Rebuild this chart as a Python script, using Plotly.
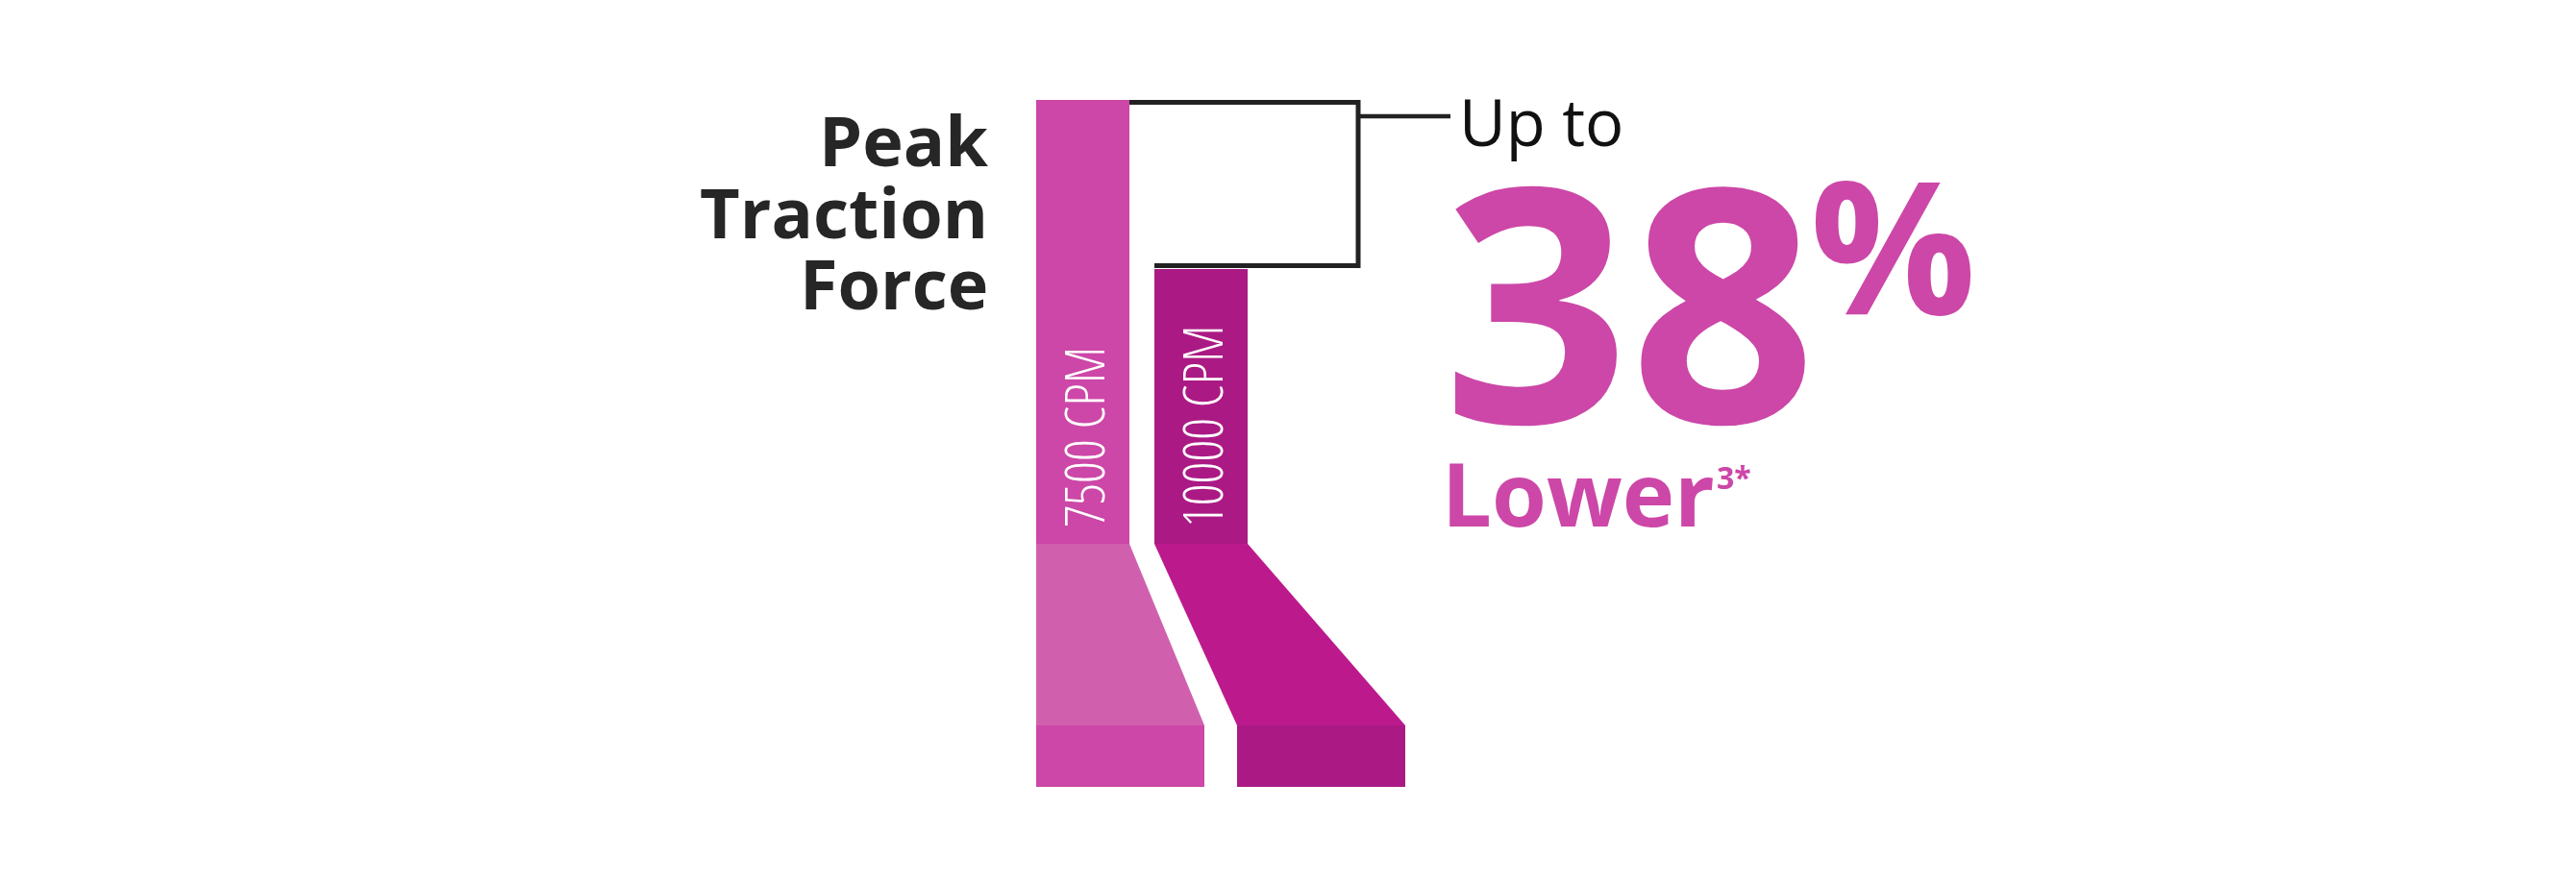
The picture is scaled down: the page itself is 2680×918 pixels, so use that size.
import plotly.graph_objects as go

# ---------------- data ----------------
categories = ["7500 CPM", "10000 CPM"]
peak_force = [100, 62]                      # relative peak traction force
title_lines = ["Peak", "Traction", "Force"]
lead_text = "Up to"
tail_text = "Lower"
footnote = "3*"
reduction = round(100 * (1 - peak_force[1] / peak_force[0]))   # 38

# ---------------- styling / layout constants ----------------
bar_colors = ["#CC47A7", "#AB1A84"]
foot_colors = ["#D060AD", "#BC1A8C"]
block_colors = ["#CC47A7", "#AB1A84"]
accent = "#CC47A7"
dark = "#262626"

W, H = 2680, 918                   # page size
OFF = 8                            # default body margin of the page
FW, FH = W - 2 * OFF, H - 2 * OFF  # figure size
CX0, CPITCH = 1126.5, 123.0        # page pixel centre of first bar, pitch between bars
Y0, PXV = 566.0, 4.62              # page pixel of value 0, pixels per value unit
BAR_W = 97.0 / CPITCH


def px2x(px):
    return (px - CX0) / CPITCH


def py2y(py):
    return (Y0 - py) / PXV


def pxx(px):
    return (px - OFF) / FW


def pyy(py):
    return 1 - (py - OFF) / FH


FONT = "Open Sans"
ASC = 1.069   # Open Sans ascent (em)

fig = go.Figure()
fig.add_trace(go.Bar(
    x=list(range(len(categories))), y=peak_force, width=BAR_W,
    marker=dict(color=bar_colors, line=dict(width=0)),
    hoverinfo="skip", showlegend=False,
))

shapes = []
# 3D "feet" under the bars
foot_bottom = py2y(755)
block_bottom = py2y(819)
feet = [
    (-BAR_W / 2, BAR_W / 2, px2x(1253), -BAR_W / 2),
    (1 - BAR_W / 2, 1 + BAR_W / 2, px2x(1462), px2x(1287)),
]
for i, (tl, tr, br, bl) in enumerate(feet):
    shapes.append(dict(
        type="path", xref="x", yref="y",
        path=f"M{tl},0 L{tr},0 L{br},{foot_bottom} L{bl},{foot_bottom} Z",
        fillcolor=foot_colors[i], line=dict(width=0), layer="below"))
    shapes.append(dict(
        type="rect", xref="x", yref="y",
        x0=bl, x1=br, y0=block_bottom, y1=foot_bottom,
        fillcolor=block_colors[i], line=dict(width=0), layer="below"))

# bracket between bar tops
bx = px2x(1413)
y_top = peak_force[0] - 2.5 / PXV
y_bot = peak_force[1] + 3.0 / PXV
shapes.append(dict(
    type="path", xref="x", yref="y",
    path=f"M{BAR_W / 2},{y_top} L{bx},{y_top} L{bx},{y_bot} L{1 - BAR_W / 2},{y_bot}",
    line=dict(color="#222222", width=5)))
shapes.append(dict(
    type="line", xref="x", yref="y",
    x0=bx, x1=px2x(1509), y0=py2y(121), y1=py2y(121),
    line=dict(color="#222222", width=4.5)))

annotations = []


def add_text(text, x_px, baseline_px, size, color, weight="normal", xanchor="left", family=FONT):
    top = baseline_px - ASC * size
    annotations.append(dict(
        text=text, xref="paper", yref="paper", x=pxx(x_px), y=pyy(top),
        xanchor=xanchor, yanchor="top", showarrow=False,
        borderpad=0, borderwidth=0,
        font=dict(family=family, size=size, color=color, weight=weight)))


for line, base in zip(title_lines, [173, 248, 322]):
    add_text(line, 1028, base, 72, dark, weight="bold", xanchor="right")

add_text(lead_text, 1518, 152, 67, "#111111")
add_text(str(reduction), 1501, 440, 340, accent, weight="bold")
add_text("%", 1883, 327, 192, accent, weight="bold")
add_text(tail_text, 1500, 548, 92, accent, weight="bold")
add_text(footnote, 1786, 509, 32, accent, weight="bold")

# rotated category labels inside bars
for i, cat in enumerate(categories):
    annotations.append(dict(
        text=cat, xref="x", yref="y", x=i, y=py2y(549),
        xanchor="center", yanchor="bottom", textangle=-90, showarrow=False,
        borderpad=0, borderwidth=0,
        font=dict(family="Open Sans Condensed Light, Open Sans Condensed, Open Sans",
                  size=57, color="#FFFFFF", weight=300)))

fig.update_layout(
    width=FW, height=FH,
    margin=dict(l=0, r=0, t=0, b=0, pad=0),
    paper_bgcolor="white", plot_bgcolor="white",
    xaxis=dict(visible=False, range=[px2x(OFF), px2x(OFF + FW)], fixedrange=True),
    yaxis=dict(visible=False, range=[py2y(OFF + FH), py2y(OFF)], fixedrange=True),
    shapes=shapes, annotations=annotations,
    bargap=0, showlegend=False,
)

fig.write_html("out.html")
